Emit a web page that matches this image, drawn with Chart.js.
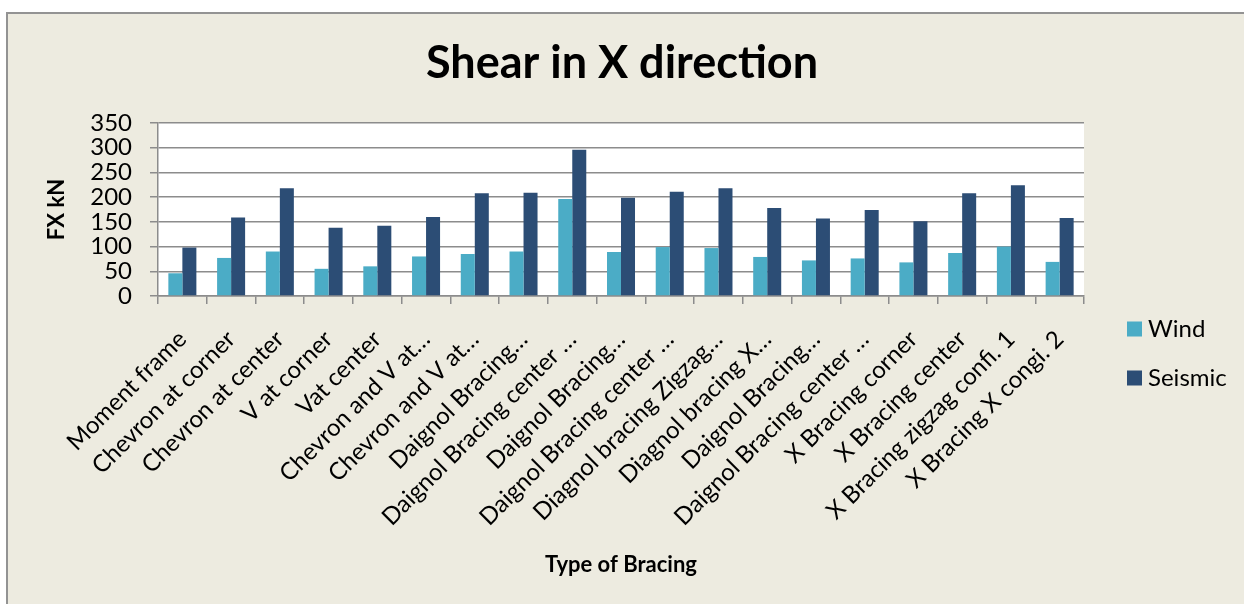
<!DOCTYPE html>
<html>
<head>
<meta charset="utf-8">
<script src="https://cdn.jsdelivr.net/npm/chart.js@4.4.1/dist/chart.umd.min.js"></script>
<style>
    html, body { margin: 0; padding: 0; background: #ffffff; }
    #frame {
        position: absolute; left: 6px; top: 12px; width: 1240px; height: 594px;
        background: #EDEBE0; border-left: 2px solid #939393; border-top: 2px solid #939393;
    }
    #chart { position: absolute; left: 0; top: 0; }
</style>
</head>
<body>
<div id="frame"></div>
<canvas id="chart" width="1244" height="604"></canvas>
<script>
const categories = [
    'Moment frame',
    'Chevron at corner',
    'Chevron at center',
    'V at corner',
    'Vat center',
    'Chevron and V at…',
    'Chevron and V at…',
    'Daignol Bracing…',
    'Daignol Bracing center …',
    'Daignol Bracing…',
    'Daignol Bracing center …',
    'Diagnol bracing Zigzag…',
    'Diagnol bracing X…',
    'Daignol Bracing…',
    'Daignol Bracing center …',
    'X Bracing corner',
    'X Bracing center',
    'X Bracing zigzag confi. 1',
    'X Bracing X congi. 2'
];

const windValues = [46, 77, 90, 55, 60, 80, 85, 90, 196, 89, 99, 97, 79, 72, 76, 68, 87, 100, 69];
const seismicValues = [98, 159, 218, 138, 142, 160, 208, 209, 296, 199, 211, 218, 178, 157, 174, 151, 208, 224, 158];

const yTicks = [0, 50, 100, 150, 200, 250, 300, 350];

const FONT = 'Lato';
const GRID = '#8c8c8c';

// white plot area on the beige frame
const plotBackground = {
    id: 'plotBackground',
    beforeDraw(chart) {
        const { ctx, chartArea: a } = chart;
        ctx.save();
        ctx.fillStyle = '#ffffff';
        ctx.fillRect(a.left, a.top, a.right - a.left, a.bottom - a.top);
        ctx.restore();
    }
};

// Excel-style legend sitting to the right of the plot
const sideLegend = {
    id: 'sideLegend',
    afterDraw(chart) {
        const ctx = chart.ctx;
        ctx.save();
        ctx.font = `24px ${FONT}`;
        ctx.textBaseline = 'middle';
        chart.data.datasets.forEach((ds, i) => {
            const y = 329 + i * 49;
            ctx.fillStyle = ds.backgroundColor;
            ctx.fillRect(1127, y - 7.5, 15, 15);
            ctx.fillStyle = '#000';
            ctx.fillText(ds.label, 1148, y);
        });
        ctx.restore();
    }
};

new Chart(document.getElementById('chart'), {
    type: 'bar',
    data: {
        labels: categories,
        datasets: [{
            label: 'Wind',
            data: windValues,
            backgroundColor: '#4BACC6'
        }, {
            label: 'Seismic',
            data: seismicValues,
            backgroundColor: '#2C4D75'
        }]
    },
    options: {
        responsive: false,
        animation: false,
        categoryPercentage: 0.575,
        barPercentage: 1,
        layout: { padding: 0 },
        plugins: {
            legend: { display: false },
            tooltip: { enabled: false },
            title: {
                display: true,
                text: 'Shear in X direction',
                color: '#000',
                font: { family: FONT, size: 45, weight: 'bold' },
                padding: { top: 36, bottom: 33 }
            }
        },
        scales: {
            x: {
                grid: { display: true, drawOnChartArea: false, color: GRID, tickColor: GRID, tickLength: 8, lineWidth: 1.5 },
                border: { color: GRID, width: 1.5 },
                ticks: {
                    autoSkip: false,
                    maxRotation: 45,
                    minRotation: 45,
                    padding: 21,
                    color: '#000',
                    font: { family: FONT, size: 24 }
                },
                title: {
                    display: true,
                    text: 'Type of Bracing',
                    color: '#000',
                    font: { family: FONT, size: 22, weight: 'bold' },
                    padding: { top: 0, bottom: 26 }
                },
                afterFit(scale) { scale.height = 308; }
            },
            y: {
                min: 0,
                max: 350,
                afterBuildTicks(scale) { scale.ticks = yTicks.map(v => ({ value: v })); },
                grid: { color: GRID, tickColor: GRID, tickLength: 8, lineWidth: 1.5 },
                border: { color: GRID, width: 1.5 },
                ticks: {
                    autoSkip: false,
                    padding: 18,
                    color: '#000',
                    font: { family: FONT, size: 24 }
                },
                title: {
                    display: true,
                    text: 'FX kN',
                    color: '#000',
                    font: { family: FONT, size: 22, weight: 'bold' },
                    padding: { top: 44, bottom: 0 }
                },
                afterFit(scale) { scale.width = 158; }
            },
            // empty box on the right that keeps room for the legend
            spacer: {
                type: 'linear',
                position: 'right',
                display: true,
                grid: { display: false },
                border: { display: false },
                ticks: { display: false },
                afterFit(scale) { scale.width = 160; }
            }
        }
    },
    plugins: [plotBackground, sideLegend]
});
</script>
</body>
</html>
